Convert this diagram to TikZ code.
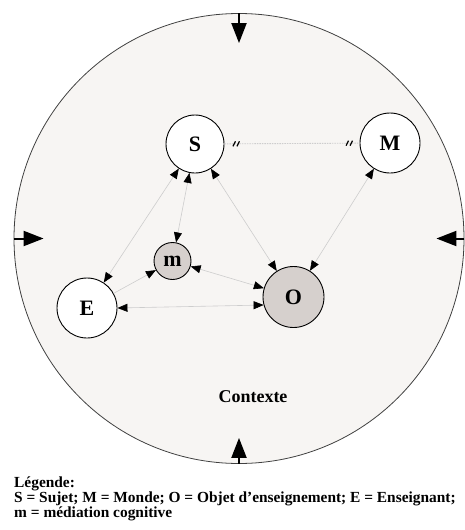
\documentclass[tikz,border=0pt]{standalone}
\usepackage{fontspec}
\setmainfont{Liberation Serif}
\usetikzlibrary{arrows.meta,decorations.markings}
\definecolor{ctxfill}{RGB}{247,245,243}
\definecolor{medfill}{RGB}{214,208,205}
\definecolor{linkgray}{RGB}{205,205,205}

\begin{document}
\begin{tikzpicture}[x=1pt, y=-1pt,
    pole/.style={draw, circle, line width=0.9pt, fill=white, inner sep=0pt,
        font=\fontsize{22}{22}\selectfont\bfseries},
    link/.style={draw=linkgray, line width=0.6pt,
        >={Triangle[length=10pt, width=8pt, color=black]}, <->},
    lead/.style={link, ->},
    hatch/.style={draw=linkgray, line width=0.9pt, dash pattern=on 1.5pt off 1pt,
        postaction={decorate, decoration={markings,
            mark=at position 11pt with {\draw[black, line width=1.2pt, solid]
                (-2.5pt,-2.5pt) -- (0pt,2.5pt) (1.5pt,-2.5pt) -- (4pt,2.5pt);},
            mark=at position -11pt with {\draw[black, line width=1.2pt, solid]
                (-2.5pt,-2.5pt) -- (0pt,2.5pt) (1.5pt,-2.5pt) -- (4pt,2.5pt);}}}},
    push/.style={line width=2pt, -{Triangle[length=20pt, width=15pt]}}]
\useasboundingbox (0,0) rectangle (465,530);

\node[draw=black!75, circle, line width=0.8pt, fill=ctxfill, minimum size=450pt] (ctx) at (239,238.5) {};
\draw[push] (ctx.north) -- ++(0,30);
\draw[push] (ctx.south) -- ++(0,-26);
\draw[push] (ctx.west) -- ++(30,0);
\draw[push] (ctx.east) -- ++(-28,0);

\node[pole, minimum size=58pt] (S) at (195,144) {S};
\node[pole, minimum size=60pt] (M) at (390,143) {M};
\node[pole, minimum size=37pt, fill=medfill] (m) at (172.5,261) {m};
\node[pole, minimum size=60pt] (E) at (87,308) {E};
\node[pole, minimum size=61pt, fill=medfill] (O) at (293.5,297) {O};

\draw[hatch] (S) -- (M);
\draw[link] (S) -- (E);
\draw[link] (S) -- (m);
\draw[link] (S) -- (O);
\draw[link] (M) -- (O);
\draw[lead] (E) -- (m);
\draw[link] (m) -- (O);
\draw[link] (E.east) -- (O.195);

\node[font=\fontsize{18}{18}\selectfont\bfseries] (ctxlabel) at (253,397) {Contexte};
\node[anchor=north west, align=left, inner sep=0pt,
    font=\fontsize{15.4}{15}\selectfont\bfseries] (legend) at (14,477)
    {Légende:\\
     S = Sujet; M = Monde; O = Objet d’enseignement; E = Enseignant;\\
     m = médiation cognitive};
\end{tikzpicture}
\end{document}
